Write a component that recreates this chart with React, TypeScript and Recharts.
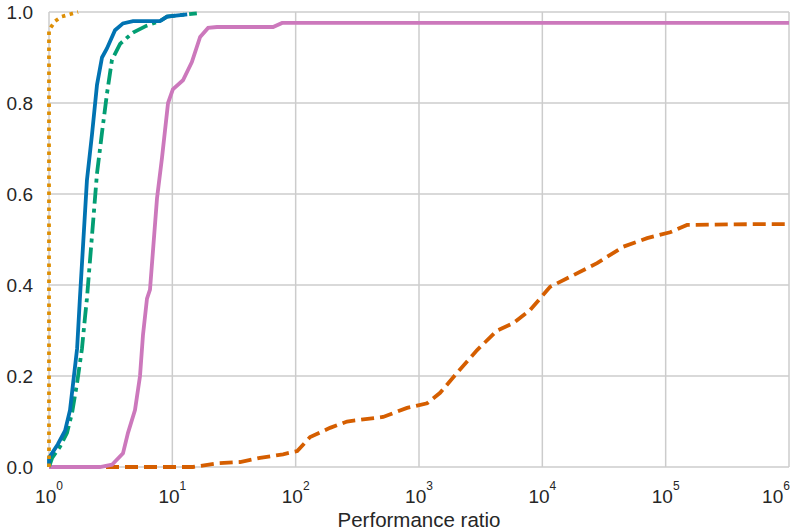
import React from 'react';
import { LineChart, Line, XAxis, YAxis, CartesianGrid } from 'recharts';

// performance profile: ratio (x, log scale) vs share of problems solved (y)
const xTicks = [1, 10, 100, 1000, 10000, 100000, 1000000];
const yTicks = [0, 0.2, 0.4, 0.6, 0.8, 1.0];

const dottedRatio = [1, 1, 1.12, 1.27, 1.48, 1.72];
const dottedShare = [0, 0.96, 0.98, 0.99, 0.995, 1.0];

const blueRatio = [1, 1, 1.18, 1.35, 1.48, 1.57, 1.69, 1.78, 2.03, 2.23, 2.45, 2.69, 2.95, 3.43, 3.98, 4.8, 7.94, 9.06, 13.2];
const blueShare = [0, 0.02, 0.05, 0.08, 0.125, 0.185, 0.26, 0.37, 0.63, 0.73, 0.84, 0.9, 0.92, 0.96, 0.975, 0.98, 0.98, 0.99, 0.995];

const greenRatio = [1, 1.03, 1.06, 1.23, 1.4, 1.54, 1.69, 1.85, 1.96, 2.03, 2.45, 2.69, 2.95, 3.24, 3.77, 4.8, 6.2, 7.94, 9.06, 15.8];
const greenShare = [0, 0.01, 0.02, 0.045, 0.075, 0.12, 0.185, 0.26, 0.33, 0.37, 0.645, 0.735, 0.82, 0.895, 0.93, 0.955, 0.97, 0.98, 0.99, 0.997];

const pinkRatio = [1, 2.59, 3.24, 3.98, 4.37, 4.98, 5.47, 5.78, 6.23, 6.59, 7.51, 8.25, 9.23, 10.1, 12.2, 14.4, 16.8, 19.5, 23, 65.6, 77.6, 1000000];
const pinkShare = [0, 0, 0.005, 0.03, 0.075, 0.125, 0.2, 0.29, 0.37, 0.39, 0.59, 0.68, 0.8, 0.83, 0.85, 0.89, 0.945, 0.965, 0.967, 0.967, 0.976, 0.976];

const redRatio = [1, 14.7, 23, 35.4, 51.4, 79, 103, 131, 190, 261, 512, 800, 1164, 1483, 2037, 2960, 4300, 5800, 7960, 11570, 16800, 27800, 45200, 70800, 108700, 149000, 618000, 1000000];
const redShare = [0, 0, 0.008, 0.011, 0.02, 0.028, 0.035, 0.066, 0.086, 0.1, 0.11, 0.13, 0.14, 0.163, 0.207, 0.257, 0.3, 0.316, 0.345, 0.396, 0.418, 0.448, 0.484, 0.503, 0.516, 0.532, 0.534, 0.534];

const pts = (xs: number[], ys: number[]) => xs.map((x, i) => ({ x, y: ys[i] }));

const FONT = '"Liberation Sans", Arial, sans-serif';

const PowerTick = (props: any) => {
  const { x, y, payload } = props;
  const exp = Math.round(Math.log10(payload.value));
  return (
    <text x={x} y={y + 28} textAnchor="middle" fill="#262626" fontFamily={FONT} fontSize={19}>
      <tspan>10</tspan>
      <tspan dy={-13} fontSize={12}>{exp}</tspan>
    </text>
  );
};

export default function App() {
  return (
    <div style={{ position: 'absolute', left: 0, top: 0, background: '#fff' }}>
      <LineChart width={804} height={530} margin={{ top: 12, right: 15, left: 0, bottom: 0 }}>
        <CartesianGrid stroke="#cccccc" strokeWidth={1.5} />
        <XAxis
          dataKey="x"
          type="number"
          scale="log"
          domain={[1, 1000000]}
          ticks={xTicks}
          axisLine={false}
          tickLine={false}
          height={63}
          tick={<PowerTick />}
          label={{ value: 'Performance ratio', position: 'insideBottom', offset: 3, fill: '#262626', fontSize: 20.5, fontFamily: FONT }}
        />
        <YAxis
          dataKey="y"
          type="number"
          domain={[0, 1]}
          ticks={yTicks}
          width={49}
          axisLine={false}
          tickLine={false}
          tickFormatter={(v: number) => v.toFixed(1)}
          tick={{ fill: '#262626', fontSize: 19, fontFamily: FONT }}
          tickMargin={10}
        />
        <Line data={pts(redRatio, redShare)} dataKey="y" stroke="#D55E00" strokeWidth={3.8} strokeDasharray="13 6" dot={false} isAnimationActive={false} />
        <Line data={pts(pinkRatio, pinkShare)} dataKey="y" stroke="#CC78BC" strokeWidth={3.8} dot={false} isAnimationActive={false} />
        <Line data={pts(greenRatio, greenShare)} dataKey="y" stroke="#029E73" strokeWidth={3.8} strokeDasharray="16 5 4 5" dot={false} isAnimationActive={false} />
        <Line data={pts(blueRatio, blueShare)} dataKey="y" stroke="#0173B2" strokeWidth={3.8} dot={false} isAnimationActive={false} />
        <Line data={pts(dottedRatio, dottedShare)} dataKey="y" stroke="#DE8F05" strokeWidth={3.8} strokeDasharray="3.5 4.5" dot={false} isAnimationActive={false} />
      </LineChart>
    </div>
  );
}
